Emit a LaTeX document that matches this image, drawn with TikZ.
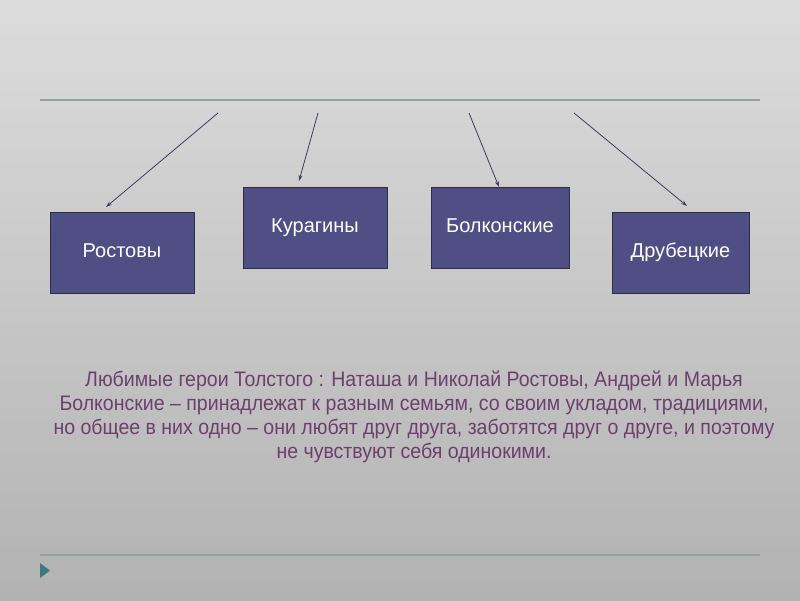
\documentclass[tikz,border=0pt]{standalone}
\usepackage{fontspec}
\setmainfont{Liberation Sans}
\newfontfamily\narrowfont[FakeStretch=0.93]{Liberation Sans}
\usetikzlibrary{arrows.meta}
\definecolor{bgtop}{HTML}{DCDCDC}
\definecolor{bgbot}{HTML}{B2B2B2}
\definecolor{rulecol}{HTML}{97A39F}
\definecolor{boxfill}{HTML}{4F4F85}
\definecolor{boxline}{HTML}{2E2E3E}
\definecolor{arrcol}{HTML}{3E3E5E}
\definecolor{txtcol}{HTML}{6E3F6E}
\definecolor{tricol}{HTML}{3C7A80}
\tikzset{
  family/.style={draw=boxline, line width=1pt, fill=boxfill, text=white,
    minimum width=#1, inner sep=0pt, text height=14pt, text depth=4pt,
    font=\fontsize{20}{24}\selectfont},
  conn/.style={draw=arrcol, line width=0.8pt, -{Stealth[length=6pt,width=4pt]}},
  rulel/.style={draw=rulecol, line width=2.5pt}
}
\begin{document}
\begin{tikzpicture}[x=1pt,y=-1pt]
\shade[top color=bgtop, bottom color=bgbot] (0,0) rectangle (800,600);
\useasboundingbox (0,0) rectangle (800,600);
% rules
\coordinate (r1a) at (40,100); \coordinate (r1b) at (760,100);
\coordinate (r2a) at (40,555); \coordinate (r2b) at (760,555);
\draw[rulel] (r1a) -- (r1b);
\draw[rulel] (r2a) -- (r2b);
% triangle
\fill[tricol] (40,563) -- (50,570.5) -- (40,578) -- cycle;
% boxes
\node[family=144pt, minimum height=81pt] (rost) at (122,252.5) {Ростовы};
\node[family=144pt, minimum height=81pt] (kur) at (315,227.5) {Курагины};
\node[family=138pt, minimum height=81pt] (bol) at (500,227.5) {Болконские};
\node[family=137pt, minimum height=81pt] (dru) at (680.5,252.5) {Друбецкие};
% arrows
\coordinate (s1) at (218,113); \coordinate (e1) at (106,207);
\coordinate (s2) at (318,113); \coordinate (e2) at (299,181);
\coordinate (s3) at (469,113); \coordinate (e3) at (499,187);
\coordinate (s4) at (574,113); \coordinate (e4) at (687,206);
\draw[conn] (s1) -- (e1);
\draw[conn] (s2) -- (e2);
\draw[conn] (s3) -- (e3);
\draw[conn] (s4) -- (e4);
% text
\node[text=txtcol, align=center, font=\narrowfont\fontsize{21}{24}\selectfont, inner sep=0pt] (txt) at (414,417)
{Любимые герои Толстого : Наташа и Николай Ростовы, Андрей и Марья\\
Болконские – принадлежат к разным семьям, со своим укладом, традициями,\\
но общее в них одно – они любят друг друга, заботятся друг о друге, и поэтому\\
не чувствуют себя одинокими.};
\end{tikzpicture}
\end{document}
